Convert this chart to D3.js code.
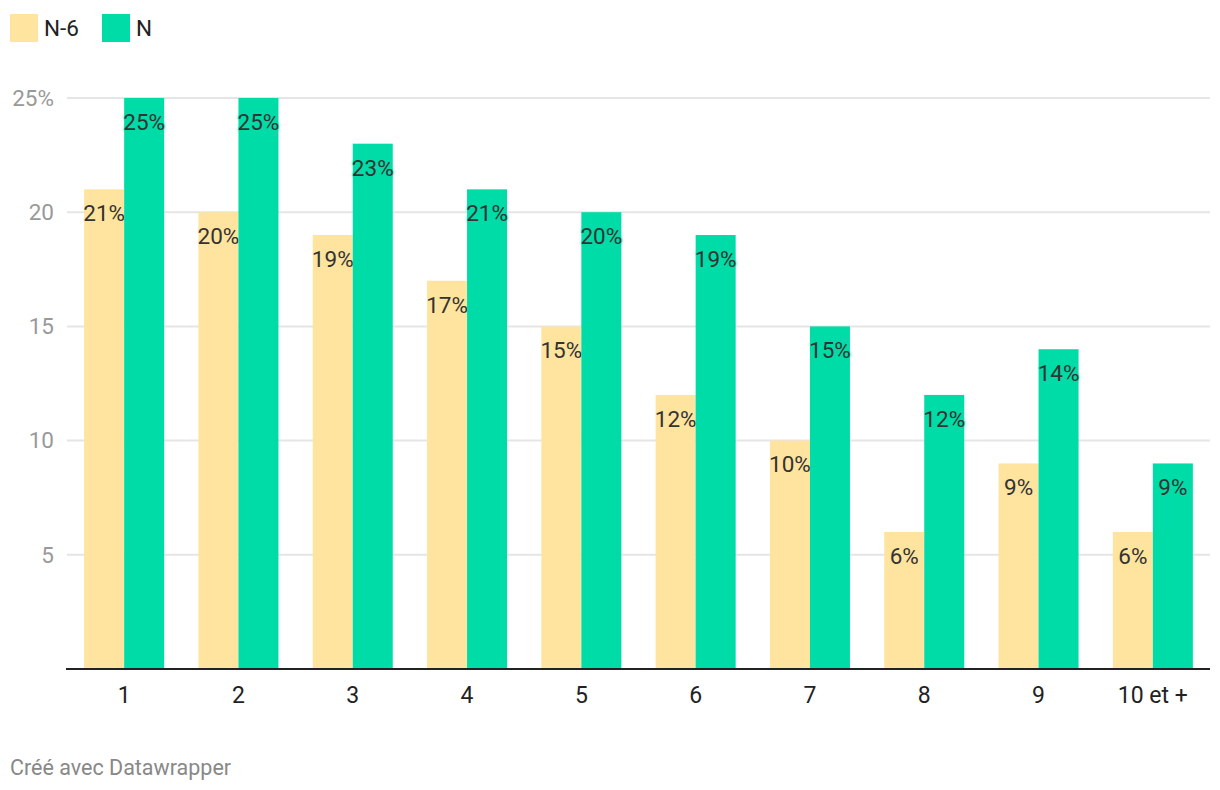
<!DOCTYPE html>
<html>
<head>
<meta charset="utf-8">
<script src="https://cdn.jsdelivr.net/npm/d3@7"></script>
<style>
  body { margin: 0; background: #fff; font-family: Roboto, "Noto Sans", sans-serif; }
  .val { font-size: 22.5px; fill: #333; }
</style>
</head>
<body>
<div id="chart"></div>
<script>
// Data
let categories = ["1", "2", "3", "4", "5", "6", "7", "8", "9", "10 et +"];
let seriesNames = ["N-6", "N"];
let valuesN6 = [21, 20, 19, 17, 15, 12, 10, 6, 9, 6];
let valuesN = [25, 25, 23, 21, 20, 19, 15, 12, 14, 9];
let yTicks = [5, 10, 15, 20, 25];
let colors = ["#fee49e", "#00dca7"];

let width = 1220, height = 790;
let margin = {top: 98, right: 10, bottom: 121, left: 67};

let svg = d3.select("#chart").append("svg")
    .attr("width", width)
    .attr("height", height);

let x0 = d3.scaleBand()
    .domain(categories)
    .range([margin.left, width - margin.right])
    .paddingInner(0.3)
    .paddingOuter(0.15);

let x1 = d3.scaleBand()
    .domain(seriesNames)
    .range([0, x0.bandwidth()]);

let y = d3.scaleLinear()
    .domain([0, 25])
    .range([height - margin.bottom, margin.top]);

// Gridlines + y labels
let grid = svg.append("g");
grid.selectAll("line")
    .data(yTicks)
    .enter().append("line")
    .attr("x1", margin.left)
    .attr("x2", width - margin.right)
    .attr("y1", d => y(d))
    .attr("y2", d => y(d))
    .attr("stroke", "#e5e5e5")
    .attr("stroke-width", 2);

grid.selectAll("text")
    .data(yTicks)
    .enter().append("text")
    .attr("x", 54)
    .attr("y", d => y(d))
    .attr("dy", "0.35em")
    .attr("text-anchor", "end")
    .attr("font-size", 22.5)
    .attr("fill", "#999")
    .text(d => d === 25 ? d + "%" : d);

// Bars
let rows = categories.map((c, i) => ({cat: c, vals: [valuesN6[i], valuesN[i]]}));
let groups = svg.append("g").selectAll("g")
    .data(rows)
    .enter().append("g")
    .attr("transform", d => "translate(" + x0(d.cat) + ",0)");

let bars = groups.selectAll("g")
    .data(d => d.vals.map((v, j) => ({key: seriesNames[j], v: v, j: j})))
    .enter().append("g");

bars.append("rect")
    .attr("x", d => x1(d.key))
    .attr("y", d => y(d.v))
    .attr("width", x1.bandwidth())
    .attr("height", d => y(0) - y(d.v))
    .attr("fill", d => colors[d.j]);

bars.append("text")
    .attr("class", "val")
    .attr("x", d => x1(d.key) + x1.bandwidth() / 2)
    .attr("y", d => y(d.v) + 24)
    .attr("dy", "0.35em")
    .attr("text-anchor", "middle")
    .style("text-shadow", d => "0 0 3px " + colors[d.j] + ", 0 0 3px " + colors[d.j])
    .text(d => d.v + "%");

// Baseline
svg.append("line")
    .attr("x1", margin.left - 1)
    .attr("x2", width - margin.right)
    .attr("y1", y(0))
    .attr("y2", y(0))
    .attr("stroke", "#222")
    .attr("stroke-width", 2);

// X labels
svg.append("g").selectAll("text")
    .data(categories)
    .enter().append("text")
    .attr("x", d => x0(d) + x0.bandwidth() / 2)
    .attr("y", y(0) + 26)
    .attr("dy", "0.35em")
    .attr("text-anchor", "middle")
    .attr("font-size", 23)
    .attr("fill", "#222")
    .text(d => d);

// Legend
let legendX = [10, 102];
let legend = svg.append("g").selectAll("g")
    .data(seriesNames)
    .enter().append("g")
    .attr("transform", (d, i) => "translate(" + legendX[i] + ",14)");

legend.append("rect")
    .attr("width", 28)
    .attr("height", 28)
    .attr("fill", (d, i) => colors[i]);

legend.append("text")
    .attr("x", 34)
    .attr("y", 14)
    .attr("dy", "0.35em")
    .attr("font-size", 22.5)
    .attr("fill", "#222")
    .text(d => d);

// Footer
svg.append("text")
    .attr("x", 10)
    .attr("y", 775)
    .attr("font-size", 21.5)
    .attr("fill", "#888")
    .text("Créé avec Datawrapper");
</script>
</body>
</html>
